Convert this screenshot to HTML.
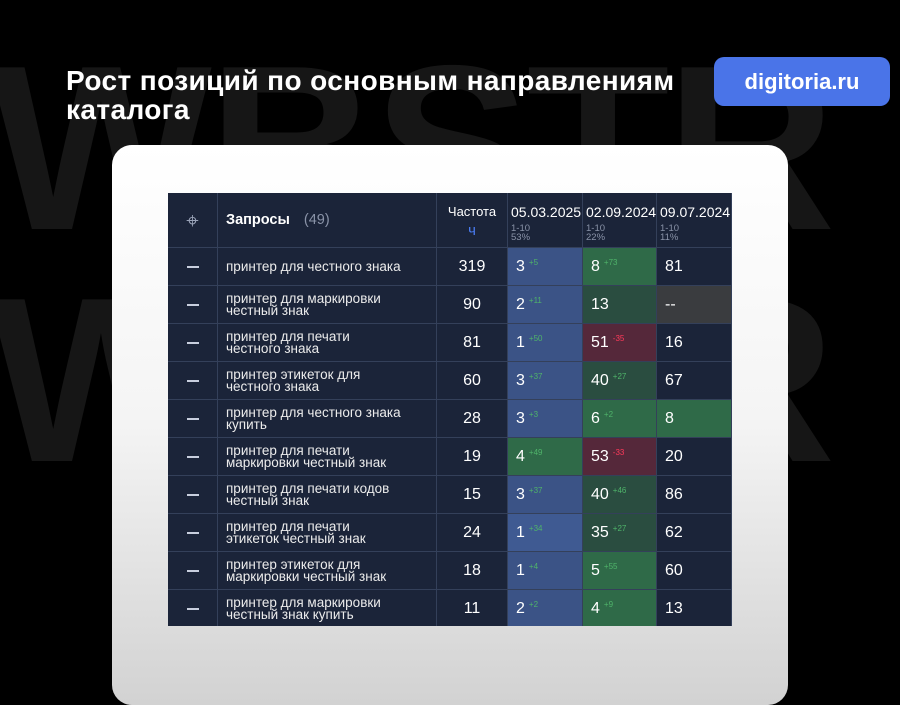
<!DOCTYPE html>
<html><head><meta charset="utf-8"><style>
*{margin:0;padding:0;box-sizing:border-box}
body{width:900px;height:675px;background:#000;overflow:hidden;position:relative;font-family:"Liberation Sans","DejaVu Sans",sans-serif}
.bg{position:absolute;left:-10px;color:#161616;font-weight:bold;font-size:235px;letter-spacing:-4px;line-height:1;white-space:nowrap}
h1{position:absolute;left:66px;top:66px;color:#fff;font-size:28px;font-weight:bold;line-height:29px;letter-spacing:0.4px}
.btn{position:absolute;left:714px;top:57px;width:176px;height:49px;background:#4a74e8;border-radius:10px;color:#fff;font-size:22px;font-weight:bold;text-align:center;line-height:49px}
.card{position:absolute;left:112px;top:145px;width:676px;height:560px;border-radius:20px;background:linear-gradient(#ffffff 0%,#f4f4f4 50%,#d2d2d2 100%)}
.t{position:absolute;left:168px;top:193px;width:564px;height:433px;background:#1b2439;overflow:hidden}
.c{position:absolute;border-right:1px solid #34405a;border-bottom:1px solid #34405a;color:#fff}
.num{font-size:16px;line-height:38px}
.d{font-size:8px;color:#4fb46a;vertical-align:top;position:relative;top:-4px;margin-left:4px}
.r{color:#ff3a5a}
.q{font-size:13.5px;line-height:12px;padding-left:8px;display:flex;align-items:center;color:#ececec}
.dash{width:12px;height:2px;background:#c8cede;position:absolute;left:19px;top:18px}
</style></head><body>
<div class="bg" style="top:30px">WBSTR</div>
<div class="bg" style="top:262px">WBSTR</div>
<h1>Рост позиций по основным направлениям<br>каталога</h1>
<div class="btn">digitoria.ru</div>
<div class="card"></div>
<div class="t" id="t">
<div class="c" style="left:0;top:0;width:50px;height:55px;text-align:center;line-height:55px;font-size:22px;color:#9aa3b8">⌖</div>
<div class="c" style="left:50px;top:0;width:219px;height:55px;line-height:55px;padding-left:8px;font-size:14.5px;font-weight:bold">Запросы <span style="font-weight:normal;color:#8a93a8;margin-left:10px">(49)</span></div>
<div class="c" style="left:269px;top:0;width:71px;height:55px;text-align:center;font-size:13px;padding-top:9px;line-height:19px">Частота<br><span style="color:#4a7bf0;font-size:15px">ч</span></div>
<div class="c" style="left:340px;top:0;width:75px;height:55px;padding:11px 0 0 3px;font-size:14px">05.03.2025<div style="font-size:9.5px;color:#8a93a8;line-height:9px;margin-top:4px">1-10<br>53%</div></div>
<div class="c" style="left:415px;top:0;width:74px;height:55px;padding:11px 0 0 3px;font-size:14px">02.09.2024<div style="font-size:9.5px;color:#8a93a8;line-height:9px;margin-top:4px">1-10<br>22%</div></div>
<div class="c" style="left:489px;top:0;width:75px;height:55px;padding:11px 0 0 3px;font-size:14px">09.07.2024<div style="font-size:9.5px;color:#8a93a8;line-height:9px;margin-top:4px">1-10<br>11%</div></div>
</div>
<script>
var B='#3b5386',G='#2f6a48',GD='#2a4d40',R='#55283a',D='#1b2439',GR='#3a3c3f',BL='#3f5a92';
var rows=[
["принтер для честного знака","319",[B,"3","+5"],[G,"8","+73"],[D,"81",""]],
["принтер для маркировки<br>честный знак","90",[B,"2","+11"],[GD,"13",""],[GR,"--",""]],
["принтер для печати<br>честного знака","81",[B,"1","+50"],[R,"51","-35"],[D,"16",""]],
["принтер этикеток для<br>честного знака","60",[B,"3","+37"],[GD,"40","+27"],[D,"67",""]],
["принтер для честного знака<br>купить","28",[B,"3","+3"],[G,"6","+2"],[G,"8",""]],
["принтер для печати<br>маркировки честный знак","19",[G,"4","+49"],[R,"53","-33"],[D,"20",""]],
["принтер для печати кодов<br>честный знак","15",[B,"3","+37"],[GD,"40","+46"],[D,"86",""]],
["принтер для печати<br>этикеток честный знак","24",[BL,"1","+34"],[GD,"35","+27"],[D,"62",""]],
["принтер этикеток для<br>маркировки честный знак","18",[B,"1","+4"],[G,"5","+55"],[D,"60",""]],
["принтер для маркировки<br>честный знак купить","11",[B,"2","+2"],[G,"4","+9"],[D,"13",""]]];
var h='';
rows.forEach(function(r,i){var y=55+i*38;
h+='<div class="c" style="left:0;top:'+y+'px;width:50px;height:38px"><div class="dash"></div></div>';
h+='<div class="c q" style="left:50px;top:'+y+'px;width:219px;height:38px">'+r[0]+'</div>';
h+='<div class="c num" style="left:269px;top:'+y+'px;width:71px;height:38px;text-align:center">'+r[1]+'</div>';
[[340,75],[415,74],[489,75]].forEach(function(p,k){var c=r[2+k];
h+='<div class="c num" style="left:'+p[0]+'px;top:'+y+'px;width:'+p[1]+'px;height:38px;padding-left:8px;background:'+c[0]+'">'+c[1]+(c[2]?'<span class="d'+(c[2][0]=='-'?' r':'')+'">'+c[2]+'</span>':'')+'</div>';});
});
document.getElementById('t').insertAdjacentHTML('beforeend',h);
</script>
</body></html>
